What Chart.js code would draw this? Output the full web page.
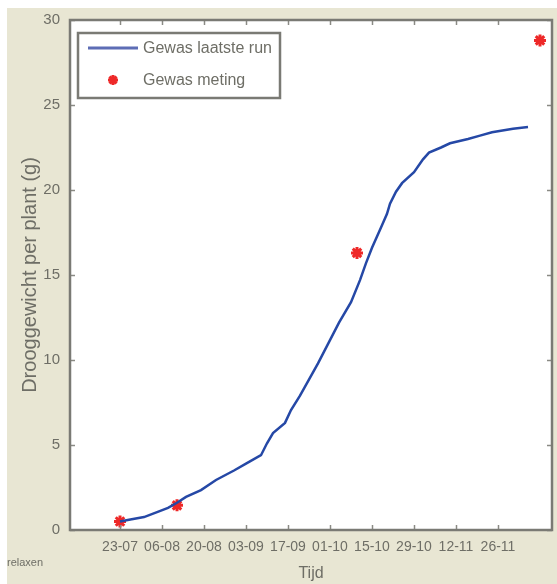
<!DOCTYPE html>
<html><head><meta charset="utf-8">
<script src="https://cdn.jsdelivr.net/npm/chart.js@4/dist/chart.umd.min.js"></script>
<style>
html,body{margin:0;padding:0;background:#fff;}
#wrap{position:absolute;left:7px;top:8px;width:550px;height:576px;background:#e8e6d3;}
canvas{display:block;}
</style></head><body>
<div id="wrap"><canvas id="c" width="550" height="576"></canvas></div>
<script>
const lineDays = [0, 3, 8, 13, 16, 19, 22, 27, 32, 38, 42, 47, 49, 51, 55, 57, 60, 66, 73, 77, 80, 82, 84, 87, 89, 90, 92, 94, 98, 101, 103, 107, 110, 116, 120, 124, 131, 136];
const lineValues = [0.5, 0.6, 0.76, 1.1, 1.3, 1.6, 1.95, 2.35, 2.94, 3.5, 3.9, 4.4, 5.1, 5.7, 6.3, 7.06, 7.9, 9.8, 12.2, 13.4, 14.7, 15.7, 16.6, 17.8, 18.6, 19.2, 19.9, 20.4, 21.05, 21.8, 22.2, 22.5, 22.75, 23.0, 23.2, 23.4, 23.6, 23.7];
const measDays = [0, 19, 79, 140];
const measValues = [0.5, 1.45, 16.3, 28.8];
const tickDays = [0, 14, 28, 42, 56, 70, 84, 98, 112, 126];
const tickLabels = ['23-07', '06-08', '20-08', '03-09', '17-09', '01-10', '15-10', '29-10', '12-11', '26-11'];
const seriesNames = ['Gewas laatste run', 'Gewas meting'];
const xTitle = 'Tijd';
const yTitle = 'Drooggewicht per plant (g)';
const cornerText = 'relaxen';

const FONT = "'Liberation Sans', Arial, sans-serif";
const GRAY = '#6e6e66';
const BOX = '#7a7a74';
const RED = '#ee2828';

const framePlugin = {
  id: 'frame',
  beforeDatasetsDraw(chart) {
    const a = chart.chartArea, ctx = chart.ctx;
    ctx.save();
    ctx.fillStyle = '#ffffff';
    ctx.fillRect(a.left, a.top, a.right - a.left, a.bottom - a.top);
    ctx.restore();
  },
  afterDraw(chart) {
    const a = chart.chartArea, ctx = chart.ctx;
    const xs = chart.scales.x, ys = chart.scales.y;
    ctx.save();
    ctx.strokeStyle = '#8a8a84';
    ctx.lineWidth = 1.5;
    const tl = 5;
    xs.ticks.forEach(t => {
      const px = Math.round(xs.getPixelForValue(t.value)) + 0.5;
      ctx.beginPath(); ctx.moveTo(px, a.bottom); ctx.lineTo(px, a.bottom - tl); ctx.stroke();
      ctx.beginPath(); ctx.moveTo(px, a.top); ctx.lineTo(px, a.top + tl); ctx.stroke();
    });
    ys.ticks.forEach(t => {
      const py = Math.round(ys.getPixelForValue(t.value)) + 0.5;
      ctx.beginPath(); ctx.moveTo(a.left, py); ctx.lineTo(a.left + tl, py); ctx.stroke();
      ctx.beginPath(); ctx.moveTo(a.right, py); ctx.lineTo(a.right - tl, py); ctx.stroke();
    });
    ctx.strokeStyle = BOX;
    ctx.lineWidth = 2.5;
    ctx.strokeRect(a.left, a.top, a.right - a.left, a.bottom - a.top);

    // legend
    const lx = a.left + 8, ly = a.top + 13, lw = 202, lh = 65;
    ctx.fillStyle = '#ffffff';
    ctx.fillRect(lx, ly, lw, lh);
    ctx.strokeStyle = BOX;
    ctx.lineWidth = 2.5;
    ctx.strokeRect(lx, ly, lw, lh);
    const ds0 = chart.data.datasets[0], ds1 = chart.data.datasets[1];
    const r1 = ly + 15, r2 = ly + 47;
    ctx.strokeStyle = '#5d6db5';
    ctx.lineWidth = 3;
    ctx.beginPath(); ctx.moveTo(lx + 10, r1); ctx.lineTo(lx + 60, r1); ctx.stroke();
    ctx.fillStyle = GRAY;
    ctx.font = "16px " + FONT;
    ctx.textBaseline = 'middle';
    ctx.textAlign = 'left';
    ctx.fillText(ds0.label, lx + 65, r1 + 1);
    ctx.fillText(ds1.label, lx + 65, r2 + 1);
    ctx.strokeStyle = RED;
    ctx.fillStyle = RED;
    ctx.lineWidth = 3;
    Chart.helpers.drawPoint(ctx, {pointStyle: 'star', radius: 5, borderWidth: 3, rotation: 0}, lx + 35, r2);

    ctx.fillStyle = GRAY;
    ctx.font = "11px " + FONT;
    ctx.textAlign = 'left';
    ctx.fillText(cornerText, 0, 555);
    ctx.restore();
  }
};

new Chart(document.getElementById('c'), {
  data: {
    datasets: [
      {
        type: 'line',
        label: seriesNames[0],
        data: lineDays.map((d, i) => ({x: d, y: lineValues[i]})),
        borderColor: '#2548a6',
        borderWidth: 2.5,
        pointRadius: 0,
        tension: 0,
        fill: false
      },
      {
        type: 'scatter',
        label: seriesNames[1],
        data: measDays.map((d, i) => ({x: d, y: measValues[i]})),
        pointStyle: 'star',
        pointRadius: 6,
        borderColor: RED,
        backgroundColor: RED,
        pointBorderWidth: 3,
        borderWidth: 3
      }
    ]
  },
  options: {
    responsive: false,
    animation: false,
    events: [],
    layout: {autoPadding: false, padding: {left: 0, top: 12, right: 5, bottom: 0}},
    plugins: {legend: {display: false}, tooltip: {enabled: false}},
    scales: {
      x: {
        type: 'linear',
        min: -16.67,
        max: 144,
        afterBuildTicks(scale) { scale.ticks = tickDays.map(v => ({value: v})); },
        afterFit(scale) { scale.height = 54; scale.paddingLeft = 0; scale.paddingRight = 0; },
        grid: {display: false, drawTicks: false},
        border: {display: false},
        ticks: {
          autoSkip: false, maxRotation: 0, minRotation: 0, padding: 9,
          color: GRAY,
          font: {family: FONT, size: 14},
          callback: (v) => { const i = tickDays.indexOf(v); return i >= 0 ? tickLabels[i] : ''; }
        },
        title: {display: true, text: xTitle, color: GRAY, font: {family: FONT, size: 16}, padding: {top: 0, bottom: 1}}
      },
      y: {
        min: 0,
        max: 30,
        afterFit(scale) { scale.width = 63; scale.paddingTop = 0; scale.paddingBottom = 0; },
        grid: {display: false, drawTicks: true, tickLength: 10},
        border: {display: false},
        ticks: {stepSize: 5, padding: 0, color: GRAY, font: {family: FONT, size: 15}},
        title: {display: true, text: yTitle, color: GRAY, font: {family: FONT, size: 20}, padding: {top: 11, bottom: 0}}
      }
    }
  },
  plugins: [framePlugin]
});
</script>
</body></html>
